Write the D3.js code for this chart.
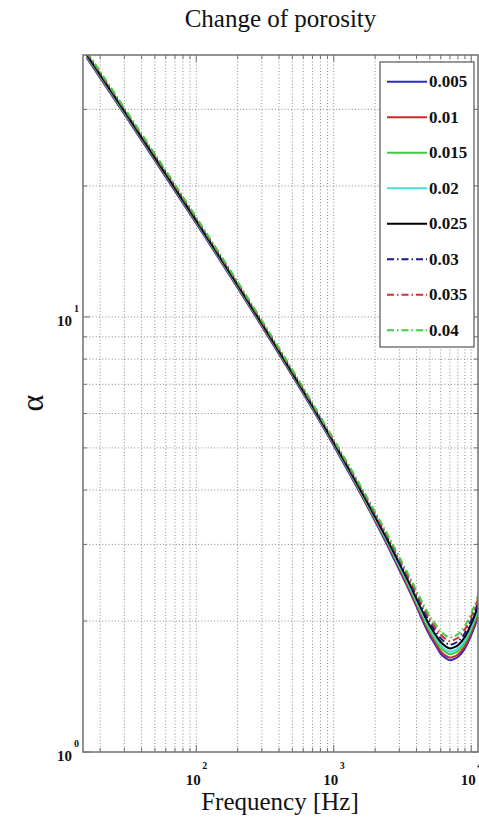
<!DOCTYPE html>
<html>
<head>
<meta charset="utf-8">
<script src="https://cdn.jsdelivr.net/npm/d3@7/dist/d3.min.js"></script>
<style>
  html, body { margin: 0; padding: 0; background: #fff; }
  svg { display: block; }
</style>
</head>
<body>
<svg id="chart" width="479" height="819"></svg>
<script>
// ---------------- data ----------------
const frequencies = [16, 30, 100, 300, 700, 1000, 1500, 2000, 2500, 3000, 3500, 4000, 4500, 5000, 5500, 6000, 6500, 7000, 7500, 8000, 9000, 10000, 11000, 12000];
const porosityLabels = ["0.005", "0.01", "0.015", "0.02", "0.025", "0.03", "0.035", "0.04"];
const alpha005 = [39.4, 29.25, 16.40, 9.51, 6.14, 5.06, 4.02, 3.39, 2.95, 2.62, 2.37, 2.16, 1.98, 1.85, 1.76, 1.68, 1.645, 1.626, 1.636, 1.654, 1.73, 1.856, 2.012, 2.215];
const alpha010 = [39.6, 29.4, 16.48, 9.55, 6.17, 5.09, 4.04, 3.41, 2.975, 2.642, 2.389, 2.176, 2.004, 1.871, 1.778, 1.704, 1.666, 1.647, 1.656, 1.676, 1.752, 1.879, 2.036, 2.241];
const alpha015 = [39.76, 29.52, 16.55, 9.59, 6.19, 5.11, 4.066, 3.433, 3.0, 2.668, 2.416, 2.204, 2.033, 1.901, 1.809, 1.736, 1.698, 1.678, 1.688, 1.707, 1.785, 1.913, 2.071, 2.278];
const alpha020 = [39.88, 29.61, 16.6, 9.62, 6.21, 5.12, 4.082, 3.45, 3.018, 2.687, 2.435, 2.224, 2.053, 1.922, 1.831, 1.760, 1.720, 1.701, 1.710, 1.730, 1.809, 1.938, 2.097, 2.305];
const alpha025 = [40.0, 29.7, 16.65, 9.65, 6.23, 5.14, 4.10, 3.47, 3.04, 2.71, 2.46, 2.25, 2.08, 1.95, 1.86, 1.79, 1.75, 1.73, 1.74, 1.76, 1.84, 1.97, 2.13, 2.34];
const alpha030 = [40.24, 29.88, 16.75, 9.71, 6.27, 5.17, 4.13, 3.5, 3.071, 2.741, 2.492, 2.282, 2.113, 1.984, 1.895, 1.826, 1.785, 1.765, 1.775, 1.795, 1.877, 2.008, 2.170, 2.382];
const alpha035 = [40.48, 30.06, 16.85, 9.77, 6.30, 5.20, 4.161, 3.531, 3.102, 2.773, 2.524, 2.315, 2.146, 2.017, 1.929, 1.862, 1.82, 1.799, 1.810, 1.830, 1.914, 2.046, 2.209, 2.424];
const alpha040 = [40.72, 30.23, 16.95, 9.82, 6.34, 5.23, 4.191, 3.562, 3.133, 2.804, 2.556, 2.347, 2.179, 2.051, 1.964, 1.897, 1.855, 1.834, 1.844, 1.866, 1.950, 2.084, 2.249, 2.466];
const xMajorTicks = [100, 1000, 10000];
const xMajorExponents = ["2", "3", "4"];
const yMajorTicks = [1, 10];
const yMajorExponents = ["0", "1"];
const titleText = "Change of porosity";
const xLabelText = "Frequency [Hz]";
const yLabelText = "α";

// ---------------- styles ----------------
const seriesAlpha = [alpha005, alpha010, alpha015, alpha020, alpha025, alpha030, alpha035, alpha040];
const seriesColor = ["#2b2bc8", "#c82828", "#3ccc3c", "#40e0e0", "#000000", "#1a1a80", "#d03030", "#40d040"];
const seriesDash = [null, null, null, null, null, "7,3,1.5,3", "7,3,1.5,3", "7,3,1.5,3"];

const L = 83, R = 478, T = 55, B = 752;
const svg = d3.select("#chart");
const serif = "'Liberation Serif', 'Times New Roman', serif";

const x = d3.scaleLog().domain([15, 11200]).range([L, R]);
const y = d3.scaleLog().domain([1, 40]).range([B, T]);

// grid
const xGrid = [];
[10, 100, 1000].forEach(d => { for (let k = 1; k <= 9; k++) { const v = d * k; if (v > 15 && v < 11200) xGrid.push(v); } });
xGrid.push(10000);
const yGrid = [];
[1, 10].forEach(d => { for (let k = 1; k <= 9; k++) { const v = d * k; if (v > 1 && v < 40) yGrid.push(v); } });

const grid = svg.append("g");
grid.selectAll("line.gx").data(xGrid).enter().append("line")
  .attr("x1", d => x(d)).attr("x2", d => x(d)).attr("y1", T).attr("y2", B)
  .attr("stroke", "#7a7a7a").attr("stroke-width", 0.9).attr("stroke-dasharray", "1,2.2");
grid.selectAll("line.gy").data(yGrid).enter().append("line")
  .attr("x1", L).attr("x2", R).attr("y1", d => y(d)).attr("y2", d => y(d))
  .attr("stroke", "#7a7a7a").attr("stroke-width", 0.9).attr("stroke-dasharray", "1,2.2");

// curves
svg.append("clipPath").attr("id", "clip").append("rect")
  .attr("x", L).attr("y", T).attr("width", R - L).attr("height", B - T);
const line = d3.line().x(d => x(d[0])).y(d => y(d[1])).curve(d3.curveMonotoneX);
const curves = svg.append("g").attr("clip-path", "url(#clip)");
seriesAlpha.forEach((vals, i) => {
  const pts = frequencies.map((f, j) => [f, vals[j]]);
  curves.append("path").datum(pts)
    .attr("d", line)
    .attr("fill", "none")
    .attr("stroke", seriesColor[i])
    .attr("stroke-width", 2)
    .attr("stroke-dasharray", seriesDash[i]);
});

// axes box with inward ticks
const axisColor = "#707070";
const axes = svg.append("g");
const xMinor = xGrid.filter(v => !xMajorTicks.includes(v));
const yMinor = yGrid.filter(v => !yMajorTicks.includes(v));
function xTicks(vals, len) {
  axes.selectAll(null).data(vals).enter().append("line")
    .attr("x1", d => x(d)).attr("x2", d => x(d)).attr("y1", B).attr("y2", B - len)
    .attr("stroke", axisColor).attr("stroke-width", 1);
  axes.selectAll(null).data(vals).enter().append("line")
    .attr("x1", d => x(d)).attr("x2", d => x(d)).attr("y1", T).attr("y2", T + len)
    .attr("stroke", axisColor).attr("stroke-width", 1);
}
function yTicks(vals, len) {
  axes.selectAll(null).data(vals).enter().append("line")
    .attr("y1", d => y(d)).attr("y2", d => y(d)).attr("x1", L).attr("x2", L + len)
    .attr("stroke", axisColor).attr("stroke-width", 1);
  axes.selectAll(null).data(vals).enter().append("line")
    .attr("y1", d => y(d)).attr("y2", d => y(d)).attr("x1", R).attr("x2", R - len)
    .attr("stroke", axisColor).attr("stroke-width", 1);
}
xTicks(xMinor, 4); xTicks(xMajorTicks, 7);
yTicks(yMinor, 4); yTicks(yMajorTicks, 7);
axes.append("rect").attr("x", L).attr("y", T).attr("width", R - L).attr("height", B - T)
  .attr("fill", "none").attr("stroke", axisColor).attr("stroke-width", 1.5);

// tick labels
const xl = svg.append("g").attr("font-family", serif).attr("font-weight", "bold").attr("fill", "#111");
xMajorTicks.forEach((v, i) => {
  xl.append("text").attr("x", x(v) - 3).attr("y", 785).attr("text-anchor", "middle")
    .attr("font-size", 15).text("10");
  xl.append("text").attr("x", x(v) + 6).attr("y", 769).attr("text-anchor", "start")
    .attr("font-size", 10).text(xMajorExponents[i]);
});
yMajorTicks.forEach((v, i) => {
  xl.append("text").attr("x", 72).attr("y", y(v) + 9).attr("text-anchor", "end")
    .attr("font-size", 15).text("10");
  xl.append("text").attr("x", 74).attr("y", y(v) - 5).attr("text-anchor", "start")
    .attr("font-size", 10).text(yMajorExponents[i]);
});

// title & labels
svg.append("text").attr("x", (L + R) / 2).attr("y", 27).attr("text-anchor", "middle")
  .attr("font-family", serif).attr("font-size", 25).attr("fill", "#111").text(titleText);
svg.append("text").attr("x", 280).attr("y", 810).attr("text-anchor", "middle")
  .attr("font-family", serif).attr("font-size", 25).attr("fill", "#111").text(xLabelText);
svg.append("text").attr("transform", "translate(32,403) rotate(-90)")
  .attr("text-anchor", "middle").attr("dominant-baseline", "central")
  .attr("font-family", serif).attr("font-size", 32).attr("fill", "#111").text(yLabelText);

// legend
const lg = svg.append("g");
lg.append("rect").attr("x", 380).attr("y", 62).attr("width", 94).attr("height", 285)
  .attr("fill", "#fff").attr("stroke", "#555").attr("stroke-width", 1.2);
porosityLabels.forEach((lab, i) => {
  const cy = 81.7 + i * 35.5;
  lg.append("line").attr("x1", 387).attr("x2", 427).attr("y1", cy).attr("y2", cy)
    .attr("stroke", seriesColor[i]).attr("stroke-width", 2)
    .attr("stroke-dasharray", seriesDash[i]);
  lg.append("text").attr("x", 429).attr("y", cy).attr("dominant-baseline", "central")
    .attr("font-family", serif).attr("font-weight", "bold").attr("font-size", 17)
    .attr("fill", "#111").text(lab);
});
</script>
</body>
</html>
